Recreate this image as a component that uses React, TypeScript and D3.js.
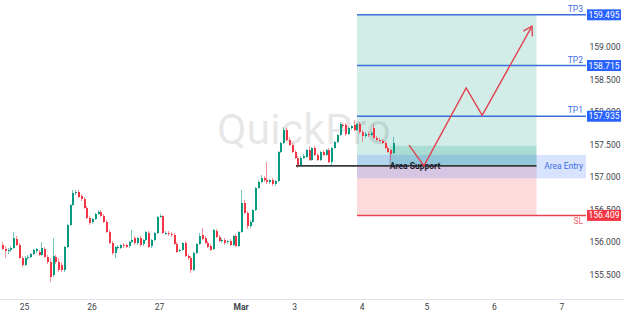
import React from "react";
import * as d3 from "d3";

// ---- data (hourly candles, EUR/JPY-like) ----
const opens = [
  155.95, 155.89, 155.86, 155.88, 155.91, 156.05, 155.95, 155.75, 155.65, 155.75,
  155.77, 155.82, 155.86, 155.85, 155.80, 155.89, 155.77, 155.69, 155.49, 155.77,
  155.69, 155.65, 155.57, 155.92, 156.26, 156.57, 156.75, 156.77, 156.71, 156.66,
  156.52, 156.37, 156.31, 156.35, 156.43, 156.46, 156.40, 156.31, 156.15, 155.98,
  155.83, 155.92, 155.91, 155.95, 155.95, 155.94, 156.00, 156.06, 155.98, 156.06,
  155.97, 156.03, 156.14, 155.94, 156.03, 156.14, 156.38, 156.40, 156.14, 156.14,
  156.12, 156.11, 155.97, 155.86, 155.88, 155.98, 155.78, 155.75, 155.57, 155.83,
  155.97, 156.11, 156.06, 155.98, 155.94, 155.89, 156.17, 156.08, 156.02, 156.03,
  156.00, 156.02, 155.95, 156.09, 155.94, 156.15, 156.60, 156.45, 156.25, 156.31,
  156.49, 156.83, 156.92, 156.98, 156.95, 156.92, 156.95, 156.89, 156.94, 157.38,
  157.52, 157.72, 157.57, 157.49, 157.38, 157.29, 157.18, 157.29, 157.31, 157.42,
  157.26, 157.45, 157.34, 157.26, 157.38, 157.34, 157.42, 157.23, 157.45, 157.54,
  157.65, 157.80, 157.80, 157.66, 157.75, 157.80, 157.72, 157.82, 157.69, 157.63,
  157.66, 157.65, 157.75, 157.60, 157.57, 157.55, 157.52, 157.45, 157.42, 157.37,
];
const highs = [
  156.00, 155.94, 155.91, 155.94, 156.15, 156.09, 155.98, 155.78, 155.78, 155.80,
  155.83, 155.89, 155.91, 155.88, 156.00, 155.92, 155.80, 155.75, 156.06, 155.80,
  155.75, 155.69, 155.94, 156.28, 156.58, 156.80, 156.80, 156.80, 156.74, 156.69,
  156.55, 156.40, 156.37, 156.45, 156.49, 156.49, 156.43, 156.34, 156.18, 156.02,
  155.94, 155.95, 155.97, 155.98, 155.97, 156.02, 156.18, 156.09, 156.08, 156.09,
  156.05, 156.17, 156.17, 156.05, 156.15, 156.40, 156.43, 156.42, 156.17, 156.17,
  156.15, 156.14, 156.00, 155.89, 156.00, 156.02, 155.82, 155.78, 155.85, 155.98,
  156.14, 156.22, 156.09, 156.02, 155.97, 156.20, 156.20, 156.11, 156.06, 156.06,
  156.03, 156.05, 156.11, 156.12, 156.17, 156.80, 156.65, 156.48, 156.34, 156.51,
  156.85, 156.95, 157.03, 157.02, 157.23, 156.97, 156.98, 156.95, 157.40, 157.54,
  157.77, 157.75, 157.62, 157.52, 157.42, 157.32, 157.32, 157.35, 157.43, 157.48,
  157.46, 157.48, 157.37, 157.40, 157.42, 157.43, 157.45, 157.46, 157.55, 157.66,
  157.85, 157.83, 157.83, 157.77, 157.80, 157.88, 157.83, 157.85, 157.72, 157.69,
  157.69, 157.71, 157.82, 157.63, 157.60, 157.58, 157.55, 157.48, 157.43, 157.62,
];
const lows = [
  155.88, 155.75, 155.82, 155.85, 155.89, 155.94, 155.74, 155.62, 155.63, 155.72,
  155.75, 155.80, 155.83, 155.78, 155.78, 155.75, 155.66, 155.38, 155.46, 155.66,
  155.54, 155.54, 155.54, 155.91, 156.25, 156.55, 156.72, 156.68, 156.63, 156.51,
  156.35, 156.26, 156.28, 156.34, 156.42, 156.38, 156.29, 156.14, 155.97, 155.80,
  155.75, 155.88, 155.89, 155.91, 155.91, 155.91, 155.98, 155.95, 155.95, 155.92,
  155.94, 156.02, 155.91, 155.91, 156.02, 156.12, 156.37, 156.12, 156.11, 156.09,
  156.08, 155.95, 155.83, 155.85, 155.86, 155.77, 155.72, 155.52, 155.55, 155.82,
  155.95, 156.03, 155.97, 155.91, 155.86, 155.88, 156.06, 156.00, 155.98, 155.95,
  155.97, 155.94, 155.94, 155.92, 155.92, 156.14, 156.43, 156.20, 156.22, 156.29,
  156.48, 156.82, 156.91, 156.92, 156.89, 156.89, 156.86, 156.86, 156.92, 157.37,
  157.51, 157.55, 157.48, 157.37, 157.28, 157.14, 157.17, 157.28, 157.29, 157.25,
  157.25, 157.32, 157.25, 157.25, 157.32, 157.32, 157.22, 157.17, 157.43, 157.52,
  157.63, 157.75, 157.63, 157.65, 157.72, 157.71, 157.71, 157.66, 157.54, 157.60,
  157.62, 157.63, 157.58, 157.55, 157.54, 157.51, 157.43, 157.37, 157.26, 157.35,
];
const closes = [
  155.89, 155.86, 155.88, 155.91, 156.06, 155.95, 155.75, 155.65, 155.75, 155.77,
  155.82, 155.88, 155.89, 155.80, 155.91, 155.77, 155.69, 155.46, 155.78, 155.69,
  155.57, 155.57, 155.92, 156.26, 156.57, 156.75, 156.77, 156.69, 156.66, 156.52,
  156.37, 156.29, 156.35, 156.43, 156.46, 156.40, 156.31, 156.15, 155.98, 155.83,
  155.92, 155.92, 155.95, 155.94, 155.92, 156.00, 156.03, 155.98, 156.06, 155.95,
  156.03, 156.15, 155.92, 156.03, 156.14, 156.38, 156.40, 156.14, 156.14, 156.12,
  156.11, 155.97, 155.85, 155.88, 155.98, 155.78, 155.75, 155.57, 155.83, 155.97,
  156.09, 156.05, 155.98, 155.92, 155.88, 156.18, 156.08, 156.02, 156.03, 155.98,
  156.02, 155.95, 156.09, 155.94, 156.15, 156.60, 156.45, 156.25, 156.31, 156.49,
  156.83, 156.92, 156.98, 156.95, 156.92, 156.95, 156.89, 156.94, 157.38, 157.52,
  157.72, 157.57, 157.49, 157.38, 157.29, 157.18, 157.29, 157.32, 157.42, 157.26,
  157.45, 157.34, 157.26, 157.38, 157.34, 157.42, 157.23, 157.45, 157.54, 157.65,
  157.82, 157.78, 157.66, 157.75, 157.78, 157.72, 157.82, 157.69, 157.63, 157.66,
  157.65, 157.68, 157.60, 157.57, 157.55, 157.52, 157.45, 157.38, 157.35, 157.52,
];

// x-axis day labels at bar indices
const dayLabels = ["25", "26", "27", "Mar", "3", "4", "5", "6", "7"];
const dayIndex = [8, 32, 56, 85, 104, 128, 151, 175, 199];

// price axis ticks
const priceTicks = [155.5, 156.0, 156.5, 157.0, 157.5, 158.0, 158.5, 159.0];

// trade levels
const levelNames = ["TP3", "TP2", "TP1", "SL"];
const levelPrices = [159.495, 158.715, 157.935, 156.409];
const entryPrice = 157.17;
const entryZone = [157.34, 156.98];
const supportZone = [157.48, 157.17];
// bar-index extents
const boxRange = [126.2, 190];
const supportLineRange = [104.5, 190];
const supportZoneRange = [138, 190];
const lastIndex = 207.6;

// projected path (bar index, price)
const pathIdx = [144.7, 150, 165, 170.7, 188.4];
const pathPrice = [157.49, 157.17, 158.37, 157.95, 159.32];

const W = 624;
const H = 316;
const GREEN = "#089981";
const RED = "#f23645";
const BLUE = "#2962ff";

export default function App() {
  const x = d3.scaleLinear().domain([0, lastIndex]).range([2, 586]);
  const y = d3.scaleLinear().domain([155.5, 159.5]).range([274.5, 14.5]);
  const font = "Roboto, 'Noto Sans', sans-serif";

  const path = d3.line<number>()
    .x((_, i) => x(pathIdx[i]))
    .y((d) => y(d))(pathPrice) as string;

  // arrowhead
  const n = pathIdx.length;
  const tx = x(pathIdx[n - 1]);
  const ty = y(pathPrice[n - 1]);
  const px = x(pathIdx[n - 2]);
  const py = y(pathPrice[n - 2]);
  const ang = Math.atan2(ty - py, tx - px);
  const al = 10;
  const a1 = ang + Math.PI - 0.55;
  const a2 = ang + Math.PI + 0.55;
  const head = `M${tx + al * Math.cos(a1)},${ty + al * Math.sin(a1)}L${tx},${ty}L${tx + al * Math.cos(a2)},${ty + al * Math.sin(a2)}`;

  const bx0 = x(boxRange[0]);
  const bx1 = x(boxRange[1]);
  const yEntry = y(entryPrice);

  return (
    <svg
      width={W}
      height={H}
      style={{ position: "fixed", left: 0, top: 0, background: "#fff" }}
      fontFamily={font}
    >
      <rect width={W} height={H} fill="#fff" />

      {/* position box */}
      <rect x={bx0} y={y(levelPrices[0])} width={bx1 - bx0} height={yEntry - y(levelPrices[0])} fill={GREEN} fillOpacity={0.18} />
      <rect x={bx0} y={yEntry} width={bx1 - bx0} height={y(levelPrices[3]) - yEntry} fill={RED} fillOpacity={0.18} />
      {/* support zone */}
      <rect
        x={x(supportZoneRange[0])}
        y={y(supportZone[0])}
        width={x(supportZoneRange[1]) - x(supportZoneRange[0])}
        height={y(supportZone[1]) - y(supportZone[0])}
        fill={GREEN}
        fillOpacity={0.2}
      />
      <line x1={x(supportZoneRange[0])} x2={x(supportZoneRange[0])} y1={y(supportZone[0]) + 6} y2={y(supportZone[1])} stroke="#9aa" strokeWidth={1} />
      {/* entry zone */}
      <rect
        x={bx0}
        y={y(entryZone[0])}
        width={x(lastIndex) - bx0}
        height={y(entryZone[1]) - y(entryZone[0])}
        fill={BLUE}
        fillOpacity={0.18}
      />

      {/* watermark */}
      <text x={217} y={144} fontSize={43} fill="#000" fillOpacity={0.11} fontFamily={font}>
        QuickPro
      </text>

      {/* candles */}
      <g shapeRendering="crispEdges">
        {opens.map((o, i) => {
          const c = closes[i];
          const col = c >= o ? GREEN : RED;
          const cx = Math.round(x(i));
          const top = y(Math.max(o, c));
          const bot = y(Math.min(o, c));
          return (
            <g key={i}>
              <rect x={cx} y={y(highs[i])} width={1} height={y(lows[i]) - y(highs[i])} fill={col} fillOpacity={0.55} />
              <rect x={cx - 0.5} y={top} width={2} height={Math.max(1, bot - top)} fill={col} />
            </g>
          );
        })}
      </g>

      {/* support line */}
      <line x1={x(supportLineRange[0])} x2={x(supportLineRange[1])} y1={yEntry} y2={yEntry} stroke="#3a3a3a" strokeWidth={1.8} />
      <text x={415} y={yEntry + 3} textAnchor="middle" fontSize={8.5} fontWeight={700} fill="#1e222d">
        Area Support
      </text>
      <text x={583} y={yEntry + 3} textAnchor="end" fontSize={8.5} fill="#3f6fe6">
        Area Entry
      </text>

      {/* level lines */}
      {levelPrices.map((p, i) => {
        const isSL = levelNames[i] === "SL";
        const col = isSL ? "#e8424f" : "#3b6fdc";
        const ly = y(p);
        return (
          <g key={levelNames[i]}>
            <line x1={bx0} x2={x(lastIndex)} y1={ly} y2={ly} stroke={col} strokeWidth={1.5} />
            <text x={583} y={isSL ? ly + 9 : ly - 3} textAnchor="end" fontSize={8.5} fill={isSL ? "#f0606c" : "#3f6fe6"}>
              {levelNames[i]}
            </text>
          </g>
        );
      })}

      {/* projected path */}
      <path d={path} fill="none" stroke="#e2414e" strokeWidth={1.4} strokeLinejoin="miter" />
      <path d={head} fill="none" stroke="#e2414e" strokeWidth={1.4} />

      {/* price axis */}
      {priceTicks.map((p) => (
        <text key={p} x={605} y={y(p) + 3} textAnchor="middle" fontSize={8.5} fill="#3c3f48">
          {p.toFixed(3)}
        </text>
      ))}
      {levelPrices.map((p, i) => {
        const isSL = levelNames[i] === "SL";
        const ly = y(p);
        return (
          <g key={"b" + i}>
            <rect x={587} y={ly - 5.5} width={34} height={11} fill={isSL ? RED : BLUE} />
            <text x={604} y={ly + 3} textAnchor="middle" fontSize={8.5} fill="#fff">
              {p.toFixed(3)}
            </text>
          </g>
        );
      })}

      {/* time axis */}
      <line x1={0} x2={W} y1={299.5} y2={299.5} stroke="#e0e3eb" strokeWidth={1} />
      {dayLabels.map((d, i) => (
        <text
          key={d}
          x={x(dayIndex[i])}
          y={310}
          textAnchor="middle"
          fontSize={8.5}
          fontWeight={d === "Mar" ? 700 : 400}
          fill="#3c3f48"
        >
          {d}
        </text>
      ))}
    </svg>
  );
}
